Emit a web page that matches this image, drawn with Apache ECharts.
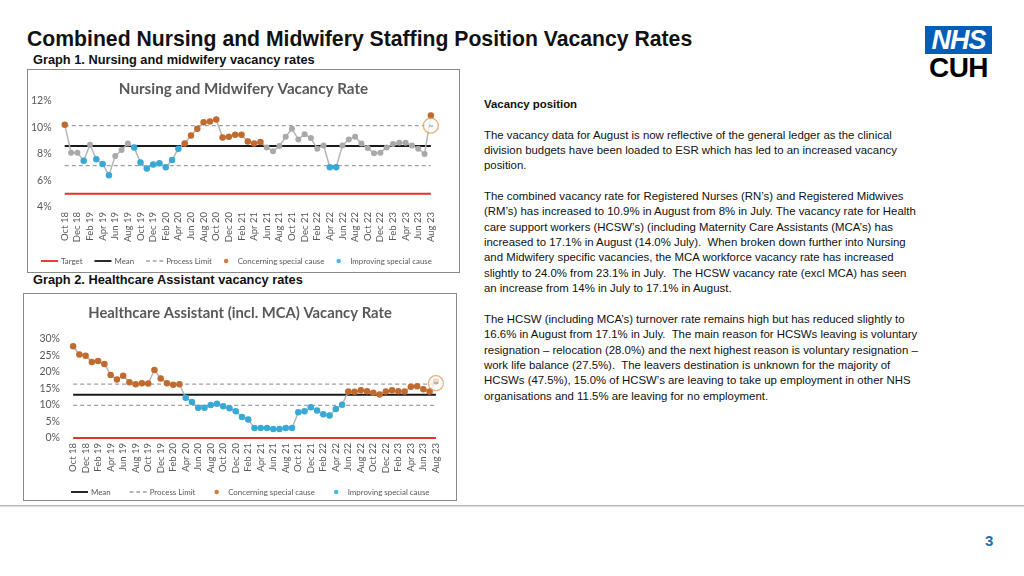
<!DOCTYPE html>
<html>
<head>
<meta charset="utf-8">
<script src="https://cdn.jsdelivr.net/npm/echarts@6/dist/echarts.min.js"></script>
<style>
  html, body { margin:0; padding:0; background:#fff; }
  body { width:1024px; height:576px; position:relative; overflow:hidden; font-family:"Liberation Sans", Arial, sans-serif; }
  .abs { position:absolute; }
  #title { left:27px; top:27px; font-size:21.2px; font-weight:bold; color:#111; white-space:nowrap; }
  .gtitle { font-size:12.8px; font-weight:bold; color:#111; white-space:nowrap; }
  .box { border:1px solid #8a8a8a; background:#fff; box-sizing:border-box; }
  #text { left:484px; top:97px; font-size:11.4px; line-height:15.35px; color:#111; white-space:nowrap; }
  #logoBox { left:925px; top:26px; width:67px; height:28px; background:#005EB8; color:#fff; font-weight:bold; font-style:italic; font-size:27px; line-height:28px; text-align:center; letter-spacing:-1px; }
  #logoCUH { left:925px; top:52px; width:67px; text-align:center; font-weight:bold; font-size:28px; color:#000; letter-spacing:-0.5px; }
  #sep { left:0; top:505px; width:1024px; height:1px; background:#b5b5b5; box-shadow:0 1px 1px #d8d8d8; }
  #page { left:985px; top:532px; font-size:15px; font-weight:bold; color:#1F6FB2; }
</style>
</head>
<body>
<div id="title" class="abs">Combined Nursing and Midwifery Staffing Position Vacancy Rates</div>
<div class="abs gtitle" style="left:33px;top:52px;">Graph 1. Nursing and midwifery vacancy rates</div>
<div id="c1" class="abs box" style="left:27px;top:69px;width:433px;height:204px;"></div>
<div class="abs gtitle" style="left:33px;top:272px;">Graph 2. Healthcare Assistant vacancy rates</div>
<div id="c2" class="abs box" style="left:23px;top:293px;width:434px;height:208px;"></div>
<div id="text" class="abs"><b>Vacancy position</b><br><br>The vacancy data for August is now reflective of the general ledger as the clinical<br>division budgets have been loaded to ESR which has led to an increased vacancy<br>position.<br><br>The combined vacancy rate for Registered Nurses (RN’s) and Registered Midwives<br>(RM’s) has increased to 10.9% in August from 8% in July. The vacancy rate for Health<br>care support workers (HCSW’s) (including Maternity Care Assistants (MCA’s) has<br>increased to 17.1% in August (14.0% July).&nbsp; When broken down further into Nursing<br>and Midwifery specific vacancies, the MCA workforce vacancy rate has increased<br>slightly to 24.0% from 23.1% in July.&nbsp; The HCSW vacancy rate (excl MCA) has seen<br>an increase from 14% in July to 17.1% in August.<br><br>The HCSW (including MCA’s) turnover rate remains high but has reduced slightly to<br>16.6% in August from 17.1% in July.&nbsp; The main reason for HCSWs leaving is voluntary<br>resignation – relocation (28.0%) and the next highest reason is voluntary resignation –<br>work life balance (27.5%).&nbsp; The leavers destination is unknown for the majority of<br>HCSWs (47.5%), 15.0% of HCSW’s are leaving to take up employment in other NHS<br>organisations and 11.5% are leaving for no employment.</div>
<div id="logoBox" class="abs">NHS</div>
<div id="logoCUH" class="abs">CUH</div>
<div id="sep" class="abs"></div>
<div id="page" class="abs">3</div>
<script>
// ---------- DATA ----------
const months = [
  'Oct 18','Nov 18','Dec 18',
  'Jan 19','Feb 19','Mar 19','Apr 19','May 19','Jun 19','Jul 19','Aug 19','Sep 19','Oct 19','Nov 19','Dec 19',
  'Jan 20','Feb 20','Mar 20','Apr 20','May 20','Jun 20','Jul 20','Aug 20','Sep 20','Oct 20','Nov 20','Dec 20',
  'Jan 21','Feb 21','Mar 21','Apr 21','May 21','Jun 21','Jul 21','Aug 21','Sep 21','Oct 21','Nov 21','Dec 21',
  'Jan 22','Feb 22','Mar 22','Apr 22','May 22','Jun 22','Jul 22','Aug 22','Sep 22','Oct 22','Nov 22','Dec 22',
  'Jan 23','Feb 23','Mar 23','Apr 23','May 23','Jun 23','Jul 23','Aug 23'
];
// Graph 1: Nursing and Midwifery vacancy rate (%)
const nmRate = [10.2,8.1,8.1,7.5,8.7,7.6,7.25,6.4,7.85,8.3,
                8.8,8.5,7.35,6.9,7.2,7.3,7.0,7.55,8.4,8.8,
                9.4,9.9,10.4,10.45,10.6,9.25,9.3,9.45,9.45,8.95,
                8.8,8.9,8.5,8.2,8.6,9.3,9.9,9.1,9.5,9.2,
                8.4,8.65,7.0,7.0,8.65,9.1,9.3,8.8,8.45,8.05,
                8.1,8.5,8.75,8.85,8.85,8.65,8.4,8.0,10.9];
// special cause: C = concerning, I = improving, N = none
const nmCause = 'CNNINIIINNNIIIIIIIICCCCCCCCCCCCCNNNNNNNNNNIINNNNNNNNNNNNNNC'.split('');
const nmTarget = 5.0, nmMean = 8.6, nmUpper = 10.14, nmLower = 7.12, nmIcon = 10.14;
const nmAxis = { min: 4, max: 12, interval: 2 };

// Graph 2: Healthcare Assistant (incl. MCA) vacancy rate (%)
const hcaRate = [27.8,25.3,24.9,23.0,23.3,22.4,19.1,17.7,18.9,16.9,
                 16.3,16.6,16.5,20.6,18.0,16.6,16.1,16.3,12.2,10.9,
                 9.2,9.2,10.0,10.4,9.6,9.0,8.1,6.4,5.6,3.0,
                 3.0,3.0,2.7,2.7,3.0,3.0,7.8,8.1,9.3,8.3,
                 7.2,6.8,8.8,10.1,14.1,14.0,14.5,14.2,13.7,13.2,
                 14.1,14.5,14.2,14.1,15.5,15.7,14.8,14.1,17.1];
const hcaCause = 'CCCCCCCCCCCCCCCCCCIIIIIIIIIIIIIIIIIIIIIIIIIICCCCCCCCCCCCCCC'.split('');
const hcaTarget = 0, hcaMean = 13.1, hcaUpper = 16.3, hcaLower = 9.9, hcaIcon = 16.6;
const hcaAxis = { min: 0, max: 30, interval: 5 };

// ---------- CHART BUILDER ----------
const FONT = 'Lato';
const GREY_TXT = '#595959';
const ICON_SOLID = 'path://M0,0h20v2.2h-20z';
const ICON_DASH = 'path://M0,0h4v1.6h-4z M7,0h4v1.6h-4z M14,0h4v1.6h-4z';
function build(o) {
  const orange = '#C55A11', blue = '#1BA8E0', ptGrey = '#A9A9A9';
  const same = v => months.map(() => v);
  const pick = c => o.values.map((v, i) => o.cause[i] === c ? v : '-');
  const last = months.length - 1;
  const series = [];
  series.push({ name:'Target', type:'line', data: same(o.target), symbol:'none', silent:true,
    lineStyle:{ color:'#E8302A', width:2 }, itemStyle:{ color:'#E8302A' }, z:1 });
  series.push({ name:'Mean', type:'line', data: same(o.mean), symbol:'none', silent:true,
    lineStyle:{ color:'#1a1a1a', width:2 }, itemStyle:{ color:'#1a1a1a' }, z:1 });
  series.push({ name:'Process Limit', type:'line', data: same(o.upper), symbol:'none', silent:true,
    lineStyle:{ color:'#A0A0A0', width:1.2, type:[4,3] }, itemStyle:{ color:'#A0A0A0' }, z:1 });
  series.push({ name:'Process Limit', type:'line', data: same(o.lower), symbol:'none', silent:true,
    lineStyle:{ color:'#A0A0A0', width:1.2, type:[4,3] }, itemStyle:{ color:'#A0A0A0' }, z:1 });
  series.push({ name:'Rate', type:'line', data: o.values, symbol:'circle', symbolSize:6, showAllSymbol:true,
    lineStyle:{ color:'#B5B5B5', width:1.5 }, itemStyle:{ color:ptGrey }, z:2 });
  series.push({ name:'Concerning special cause', type:'scatter', data: pick('C'), symbolSize:6.5,
    itemStyle:{ color:orange }, z:3 });
  series.push({ name:'Improving special cause', type:'scatter', data: pick('I'), symbolSize:6.5,
    itemStyle:{ color:blue }, z:3 });
  series.push({ name:'Variation', type:'scatter', data: months.map((m, i) => i === last ? o.icon : '-'),
    symbolSize:15, z:4,
    itemStyle:{ color:'rgba(255,255,255,0.9)', borderColor:'#E59A55', borderWidth:1.3 },
    label:{ show:true, position:'inside', formatter:'~', color:'#777', fontSize:9, fontFamily:FONT } });
  const legendNames = o.showTarget ? ['Target','Mean','Process Limit','Concerning special cause','Improving special cause']
                                   : ['Mean','Process Limit','Concerning special cause','Improving special cause'];
  const legendIcon = n => n.indexOf('special') >= 0 ? 'circle' : (n === 'Process Limit' ? ICON_DASH : ICON_SOLID);
  return {
    animation:false,
    textStyle:{ fontFamily:FONT },
    title:{ text:o.title, left:'center', top:o.titleTop,
      textStyle:{ fontFamily:FONT, fontSize:o.titleSize, fontWeight:'bold', color:GREY_TXT } },
    grid:o.grid,
    legend:{ top:o.legendTop, left:o.legendLeft, width:430, itemWidth:17, itemHeight:4.5, itemGap:o.legendGap, padding:0,
      textStyle:{ fontFamily:FONT, fontSize:7.9, color:GREY_TXT, padding:[0,0,0,-2] },
      data: legendNames.map(n => ({ name:n, icon:legendIcon(n) })) },
    xAxis:{ type:'category', data:months, boundaryGap:true,
      axisLine:{ show:false }, axisTick:{ show:false },
      axisLabel:{ rotate:90, interval:1, fontSize:9.5, color:GREY_TXT, margin:5, fontFamily:FONT } },
    yAxis:{ type:'value', min:o.axis.min, max:o.axis.max, interval:o.axis.interval,
      axisLine:{ show:false }, axisTick:{ show:false }, splitLine:{ show:false },
      axisLabel:{ formatter:'{value}%', fontSize:10.5, color:GREY_TXT, margin:10, fontFamily:FONT } },
    series
  };
}

const c1 = echarts.init(document.getElementById('c1'), null, { renderer:'canvas' });
c1.setOption(build({
  title:'Nursing and Midwifery Vacancy Rate', titleTop:7, titleSize:15.2,
  values:nmRate, cause:nmCause, target:nmTarget, mean:nmMean, upper:nmUpper, lower:nmLower, icon:nmIcon,
  axis:nmAxis, showTarget:true,
  grid:{ left:31, right:25, top:31, bottom:65 },
  legendTop:187, legendLeft:13, legendGap:12
}));
const c2 = echarts.init(document.getElementById('c2'), null, { renderer:'canvas' });
c2.setOption(build({
  title:'Healthcare Assistant (incl. MCA) Vacancy Rate', titleTop:7, titleSize:14.8,
  values:hcaRate, cause:hcaCause, target:hcaTarget, mean:hcaMean, upper:hcaUpper, lower:hcaLower, icon:hcaIcon,
  axis:hcaAxis, showTarget:false,
  grid:{ left:46, right:17, top:45, bottom:62 },
  legendTop:194, legendLeft:47, legendGap:19
}));
</script>
</body>
</html>
